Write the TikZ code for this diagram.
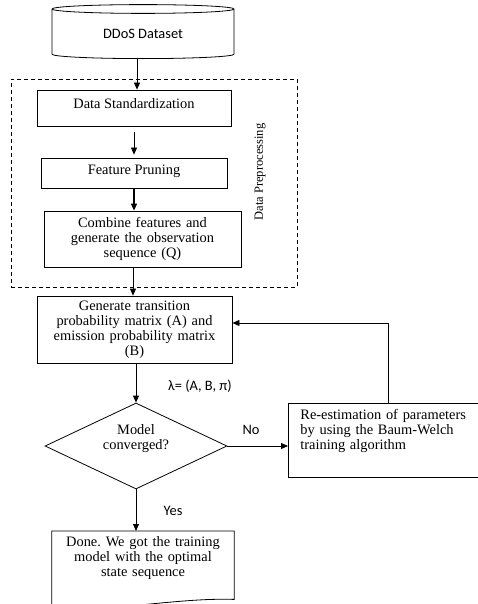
\documentclass[tikz,border=0pt]{standalone}
\usepackage{fontspec}
\setmainfont{Liberation Serif}
\newfontfamily\calfont{Carlito}
\usetikzlibrary{arrows.meta,shapes.geometric}
\frenchspacing

\begin{document}
\begin{tikzpicture}[x=1pt,y=-1pt,
  box/.style={draw,line width=0.8pt,inner sep=0pt,align=center,
              font=\fontsize{14.4}{15}\selectfont,text height=10pt},
  arr/.style={-{Triangle[length=7pt,width=6pt]},line width=0.8pt},
  lbl/.style={font=\calfont\fontsize{14.4}{15}\selectfont,inner sep=0pt}
]
\useasboundingbox (0,0) rectangle (478,604);

% Input data
\node[box,cylinder,shape border rotate=90,aspect=0.11,minimum width=182pt,
      minimum height=54pt,font=\calfont\fontsize{14.4}{15}\selectfont]
      (ds) at (143,34) {DDoS Dataset};

% Preprocessing group
\node[draw,dash pattern=on 4pt off 3pt,line width=0.7pt,
      minimum width=286pt,minimum height=208pt] (prep) at (154,183) {};
\node[font=\fontsize{12.5}{15}\selectfont,rotate=90,inner sep=0pt]
      (preplbl) at (260,172) {Data Preprocessing};

\node[box,minimum width=194pt,minimum height=36pt,text depth=9pt]
      (std) at (134,108) {Data Standardization};
\node[box,minimum width=186pt,minimum height=30pt,text depth=7pt]
      (prun) at (134,173) {Feature Pruning};
\node[box,minimum width=197pt,minimum height=56pt,text width=190pt]
      (comb) at (142.5,239) {Combine features and\\generate the observation\\sequence (Q)};

% HMM training
\node[box,minimum width=195pt,minimum height=67pt,text width=190pt]
      (gen) at (134.5,329.5) {Generate transition\\probability matrix (A) and\\emission probability matrix\\(B)};
\node[box,diamond,aspect=2.1,minimum width=182pt,minimum height=86pt]
      (conv) at (136,446) {Model\\converged?};
\node[box,anchor=north west,align=left,text width=176pt,inner xsep=12pt,
      inner ysep=6pt,text depth=52pt]
      (reest) at (288,403) {Re-estimation of parameters\\by using the Baum-Welch\\training algorithm};

% Output (document shape)
\node[anchor=north,text width=170pt,align=center,inner xsep=6pt,inner ysep=5pt,
      font=\fontsize{14.4}{15}\selectfont,text height=10pt,text depth=50pt]
      (done) at (143,531) {Done. We got the training\\model with the optimal\\state sequence};
\draw[line width=0.8pt] ([yshift=-4pt]done.south west) -- (done.north west)
  -- (done.north east) -- ([yshift=2pt]done.south east)
  .. controls +(-60,-2) and +(60,8) .. ([yshift=-4pt]done.south west);

\draw[arr] ([xshift=-6pt]ds.south) -- ([xshift=-6pt]ds.south |- std.north);
\draw[arr,shorten <=6pt,shorten >=3pt] (std) -- (prun);
\draw[arr,line width=1.3pt] (prun.south) -- (prun.south |- comb.north);
\draw[arr] ([xshift=-1.5pt]gen.north |- comb.south) -- ([xshift=-1.5pt]gen.north);
\draw[arr] (conv.north |- gen.south) -- (conv.north);
\draw[arr] (conv.east) -- (conv.east -| reest.west);
\draw[arr] (reest.north) |- ([yshift=6.5pt]gen.east);
\draw[arr] (conv.south) -- (conv.south |- done.north);

% Edge labels
\node[lbl] (lam) at (200,386) {λ= (A, B, π)};
\node[lbl] (no)  at (251,430) {No};
\node[lbl] (yes) at (173,511) {Yes};

\end{tikzpicture}
\end{document}
